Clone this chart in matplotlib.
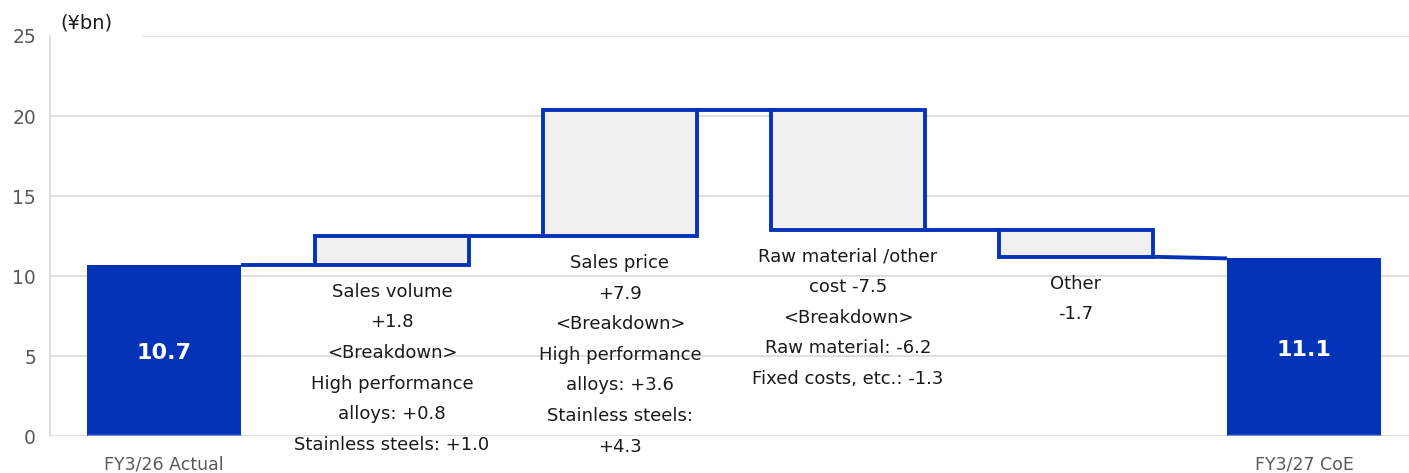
import numpy as np
import matplotlib
matplotlib.use("Agg")
import matplotlib.pyplot as plt
from matplotlib.patches import Rectangle

plt.rcParams['font.family'] = ['DejaVu Sans']

categories = ["FY3/26 Actual", "", "", "", "", "FY3/27 CoE"]
start_value = 10.7
changes = [1.8, 7.9, -7.5, -1.7]
end_value = 11.1
notes = [
    "Sales volume\n+1.8\n<Breakdown>\nHigh performance\nalloys: +0.8\nStainless steels: +1.0",
    "Sales price\n+7.9\n<Breakdown>\nHigh performance\nalloys: +3.6\nStainless steels:\n+4.3",
    "Raw material /other\ncost -7.5\n<Breakdown>\nRaw material: -6.2\nFixed costs, etc.: -1.3",
    "Other\n-1.7",
]
yticks = [0, 5, 10, 15, 20, 25]

BLUE = "#0533B8"
GRID = "#d9d9d9"
TICK = "#595959"

fig = plt.figure(figsize=(14.09, 4.73), dpi=100)
ax = fig.add_axes([50/1409, 37/473, 1 - 50/1409, 400/473])

w = 0.675
x = np.arange(len(categories))

# running levels
levels = [start_value]
for c in changes:
    levels.append(levels[-1] + c)

# gridlines
for t in yticks:
    ax.axhline(t, color=GRID, lw=1.2, zorder=0)

# totals
for xi, v in [(x[0], start_value), (x[-1], end_value)]:
    ax.bar(xi, v, width=w, color=BLUE, edgecolor="none", zorder=3)
    ax.plot([xi - w/2, xi + w/2], [0, 0], color="#6f8ad6", lw=2.5, zorder=4,
            solid_capstyle='butt')
    ax.annotate(f"{v:.1f}", xy=(xi, v/2), xytext=(0, -2), textcoords="offset points",
                color="white", fontsize=16, fontweight="bold",
                ha="center", va="center", zorder=5)

# floating bars
for i, c in enumerate(changes):
    xi = x[i + 1]
    lo = min(levels[i], levels[i + 1])
    ax.bar(xi, abs(c), bottom=lo, width=w, color="#f0f0f0", edgecolor=BLUE,
           linewidth=2.8, zorder=3)
    ax.annotate(notes[i], xy=(xi, lo), xytext=(0, -13), textcoords="offset points",
                ha="center", va="top", fontsize=13, linespacing=1.9,
                color="#1a1a1a", zorder=5)

# connectors
for i in range(len(categories) - 1):
    y_left = levels[i]
    y_right = levels[i] if i + 1 < len(categories) - 1 else end_value
    ax.plot([x[i] + w/2, x[i + 1] - w/2], [y_left, y_right], color=BLUE,
            lw=2.8, zorder=2, solid_capstyle='butt')

ax.set_xlim(-0.5, (1409 - 50) / 228 - 0.5)
ax.set_ylim(0, 25)
ax.set_yticks(yticks)
ax.set_yticklabels([str(t) for t in yticks], fontsize=13.5, color=TICK)
ax.set_xticks(x)
ax.set_xticklabels(categories, fontsize=12.5, color=TICK)
ax.tick_params(length=0, pad=10)
ax.tick_params(axis='x', pad=14)
for s in ["top", "right", "bottom"]:
    ax.spines[s].set_visible(False)
ax.spines["left"].set_color(GRID)
ax.spines["left"].set_linewidth(1.2)

fig.text(60/1409, 1 - 23/473, "(¥bn)", fontsize=14, color="#1a1a1a",
         ha="left", va="center",
         bbox=dict(facecolor="white", edgecolor="none", pad=4))
# cover top gridline beside unit label
fig.patches.append(Rectangle((51/1409, 1 - 40/473), 92/1409, 8/473,
                             transform=fig.transFigure, facecolor="white",
                             edgecolor="none", zorder=10))

fig.savefig("out.png", dpi=100)
